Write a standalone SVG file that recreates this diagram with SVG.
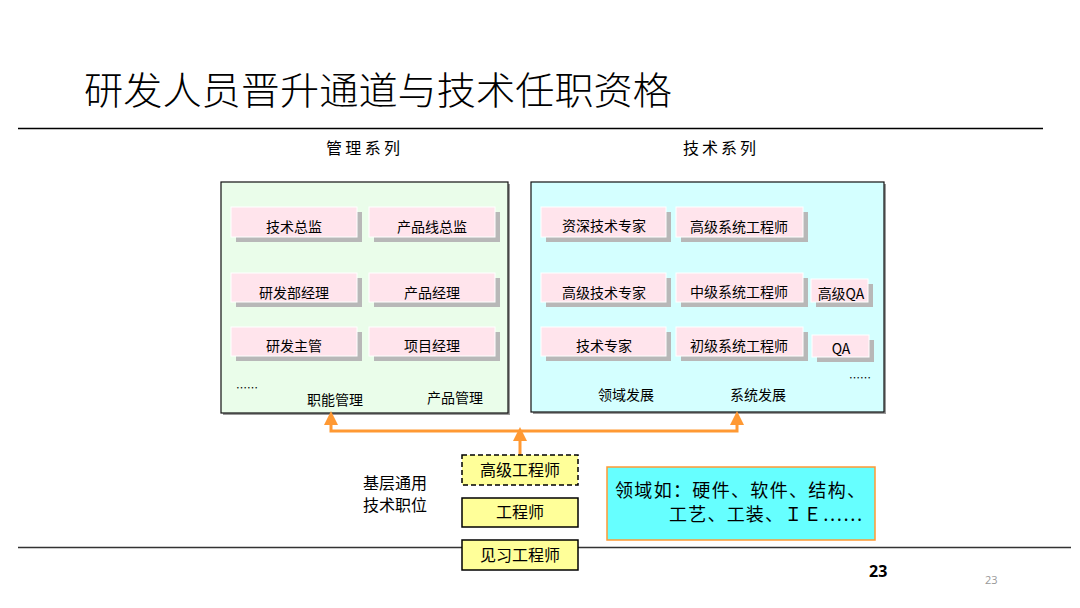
<svg xmlns="http://www.w3.org/2000/svg" width="1080" height="608" viewBox="0 0 1080 608">
<defs>
<style>
.t{font-family:"Noto Sans CJK SC","Liberation Sans",sans-serif;fill:#000}
.s14{font-size:14px}
.s16{font-size:16px}
.pk{fill:#ffe4ec;stroke:#ffffff;stroke-width:1}
.sh{fill:#b8b8b8}
.yb{fill:#ffff99;stroke:#000;stroke-width:1.5}
.or{stroke:#ff9933;stroke-width:3;fill:none}
.ah{fill:#ff9933}
</style>
</defs>
<rect width="1080" height="608" fill="#fff"/>
<text class="t" x="84" y="104" font-size="38" font-weight="300" textLength="588" lengthAdjust="spacingAndGlyphs">研发人员晋升通道与技术任职资格</text>
<line x1="18" y1="128.5" x2="1043" y2="128.5" stroke="#000" stroke-width="1.5"/>
<line x1="18" y1="547.5" x2="1071" y2="547.5" stroke="#333" stroke-width="1.5"/>
<text class="t s16" x="326" y="154" textLength="74" lengthAdjust="spacing">管理系列</text>
<text class="t s16" x="683" y="154" textLength="73" lengthAdjust="spacing">技术系列</text>

<g id="mgmt">
<rect x="223" y="184" width="287" height="231" fill="#9a9a9a"/>
<rect x="221" y="182" width="287" height="231" fill="#eafdea" stroke="#111" stroke-width="1.2"/>
<text class="t" x="236" y="392" font-size="11">……</text>
<text class="t s14" x="335" y="405" text-anchor="middle">职能管理</text>
<text class="t s14" x="455" y="403" text-anchor="middle">产品管理</text>
</g>
<g id="tech">
<rect x="533" y="184" width="353" height="230" fill="#9a9a9a"/>
<rect x="531" y="182" width="353" height="230" fill="#d4ffff" stroke="#111" stroke-width="1.2"/>
<text class="t" x="849" y="382" font-size="11">……</text>
<text class="t s14" x="626" y="400" text-anchor="middle">领域发展</text>
<text class="t s14" x="758" y="400" text-anchor="middle">系统发展</text>
</g>

<g id="n1"><rect class="sh" x="236" y="212" width="126" height="30"/><rect class="pk" x="231" y="207" width="126" height="30"/><text class="t s14" x="294" y="232" text-anchor="middle">技术总监</text></g>
<g id="n2"><rect class="sh" x="374" y="212" width="126" height="30"/><rect class="pk" x="369" y="207" width="126" height="30"/><text class="t s14" x="432" y="232" text-anchor="middle">产品线总监</text></g>
<g id="n3"><rect class="sh" x="236" y="278" width="126" height="29"/><rect class="pk" x="231" y="273" width="126" height="29"/><text class="t s14" x="294" y="298" text-anchor="middle">研发部经理</text></g>
<g id="n4"><rect class="sh" x="374" y="278" width="126" height="29"/><rect class="pk" x="369" y="273" width="126" height="29"/><text class="t s14" x="432" y="298" text-anchor="middle">产品经理</text></g>
<g id="n5"><rect class="sh" x="236" y="332" width="126" height="29"/><rect class="pk" x="231" y="327" width="126" height="29"/><text class="t s14" x="294" y="351" text-anchor="middle">研发主管</text></g>
<g id="n6"><rect class="sh" x="374" y="332" width="126" height="29"/><rect class="pk" x="369" y="327" width="126" height="29"/><text class="t s14" x="432" y="351" text-anchor="middle">项目经理</text></g>

<g id="t1"><rect class="sh" x="546" y="212" width="125" height="30"/><rect class="pk" x="541" y="207" width="125" height="30"/><text class="t s14" x="604" y="231" text-anchor="middle">资深技术专家</text></g>
<g id="t2"><rect class="sh" x="681" y="212" width="127" height="30"/><rect class="pk" x="676" y="207" width="127" height="30"/><text class="t s14" x="739" y="232" text-anchor="middle">高级系统工程师</text></g>
<g id="t3"><rect class="sh" x="546" y="278" width="125" height="29"/><rect class="pk" x="541" y="273" width="125" height="29"/><text class="t s14" x="604" y="298" text-anchor="middle">高级技术专家</text></g>
<g id="t4"><rect class="sh" x="681" y="278" width="127" height="29"/><rect class="pk" x="676" y="273" width="127" height="29"/><text class="t s14" x="739" y="297" text-anchor="middle">中级系统工程师</text></g>
<g id="t5"><rect class="sh" x="816" y="284" width="57" height="23"/><rect class="pk" x="811" y="279" width="57" height="23"/><text class="t s14" x="841" y="299" text-anchor="middle">高级QA</text></g>
<g id="t6"><rect class="sh" x="546" y="332" width="125" height="29"/><rect class="pk" x="541" y="327" width="125" height="29"/><text class="t s14" x="604" y="351" text-anchor="middle">技术专家</text></g>
<g id="t7"><rect class="sh" x="681" y="332" width="127" height="29"/><rect class="pk" x="676" y="327" width="127" height="29"/><text class="t s14" x="739" y="351" text-anchor="middle">初级系统工程师</text></g>
<g id="t8"><rect class="sh" x="817" y="340" width="57" height="22"/><rect class="pk" x="812" y="335" width="57" height="22"/><text class="t s14" x="841" y="354" text-anchor="middle">QA</text></g>

<g id="connectors">
<path class="or" d="M331,423 V431 H737 V423"/>
<polygon class="ah" points="331,411 338,425 324,425"/>
<polygon class="ah" points="737,411 744,425 730,425"/>
<path class="or" d="M520,455 V440"/>
<polygon class="ah" points="520,427 527,441 513,441"/>
</g>

<g id="y1"><rect class="yb" x="462" y="455" width="116" height="30" stroke-dasharray="5,3"/><text class="t s16" x="520" y="476" text-anchor="middle">高级工程师</text></g>
<g id="y2"><rect class="yb" x="462" y="498" width="116" height="29"/><text class="t s16" x="520" y="518" text-anchor="middle">工程师</text></g>
<g id="y3"><rect class="yb" x="462" y="540" width="116" height="30" fill="#ffff99"/><text class="t s16" x="520" y="561" text-anchor="middle">见习工程师</text></g>

<g id="base">
<text class="t s16" x="363" y="489">基层通用</text>
<text class="t s16" x="363" y="511">技术职位</text>
</g>

<g id="note">
<rect x="607" y="467" width="268" height="73" fill="#66ffff" stroke="#ff9933" stroke-width="1.5"/>
<text class="t" x="615" y="497" font-size="18" textLength="250" lengthAdjust="spacing">领域如：硬件、软件、结构、</text>
<text class="t" x="669" y="521" font-size="18" textLength="193" lengthAdjust="spacing">工艺、工装、ＩＥ……</text>
</g>

<text x="869" y="577" font-family="'Open Sans','Liberation Sans',sans-serif" font-size="16" font-weight="bold" fill="#000">23</text>
<text x="985" y="584" font-family="'Open Sans','Liberation Sans',sans-serif" font-size="11" fill="#999">23</text>
</svg>
